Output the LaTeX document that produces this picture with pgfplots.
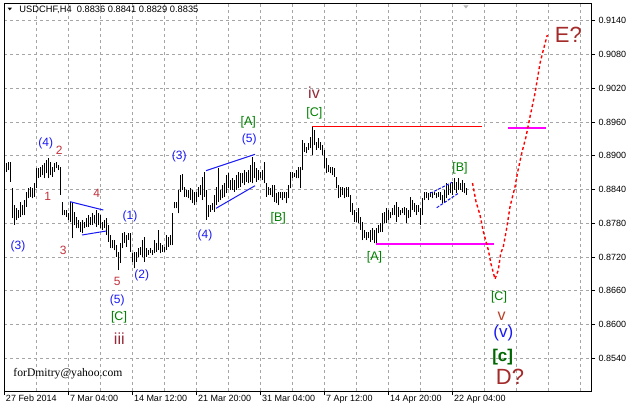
\documentclass[border=0pt]{standalone}
\usepackage{pgfplots}
\pgfplotsset{compat=1.18}
\usepackage{pgfplotstable}
\usepackage{fontspec}
\setmainfont{Liberation Sans}
\newfontfamily\seriffont{Liberation Serif}
\newfontfamily\dejavu{DejaVu Sans}
\newcommand{\fs}[1]{\fontsize{#1}{#1}\selectfont}
\definecolor{wblue}{RGB}{25,25,245}
\definecolor{wgreen}{RGB}{0,128,0}
\definecolor{wred}{RGB}{195,50,60}
\definecolor{wmaroon}{RGB}{150,40,55}
\definecolor{wv}{RGB}{185,65,40}
\definecolor{wbrown}{RGB}{165,42,42}
\definecolor{gridc}{RGB}{165,165,165}
\definecolor{mag}{RGB}{255,0,255}

\pgfplotstableread{
x lo hi
6 0.88717 0.88877
8 0.88747 0.88884
10 0.88539 0.88884
12 0.87889 0.88422
14 0.87770 0.88125
16 0.87859 0.88066
18 0.87894 0.88036
20 0.87917 0.88184
22 0.87947 0.88125
24 0.87947 0.88214
26 0.88095 0.88361
28 0.88244 0.88422
30 0.88273 0.88450
32 0.88244 0.88422
34 0.88273 0.88511
36 0.88427 0.88783
38 0.88605 0.88783
40 0.88628 0.88806
42 0.88658 0.88836
44 0.88605 0.88871
46 0.88688 0.88925
48 0.88605 0.88960
50 0.88658 0.88895
52 0.88628 0.88806
54 0.88717 0.88871
56 0.88777 0.88895
58 0.88747 0.88836
60 0.88303 0.88806
62 0.87947 0.88184
64 0.87947 0.88036
66 0.87917 0.88036
68 0.87859 0.87978
70 0.87828 0.88184
72 0.87533 0.88184
74 0.87770 0.88006
76 0.87711 0.87917
78 0.87711 0.87859
80 0.87651 0.87828
82 0.87622 0.87859
84 0.87711 0.87828
86 0.87740 0.87889
88 0.87740 0.87947
90 0.87770 0.87917
92 0.87770 0.87978
94 0.87800 0.87947
96 0.87740 0.88036
98 0.87770 0.87978
100 0.87711 0.87947
102 0.87681 0.87828
104 0.87711 0.87859
106 0.87592 0.87889
108 0.87473 0.87770
110 0.87356 0.87592
112 0.87356 0.87503
114 0.87325 0.87503
116 0.87207 0.87414
118 0.86970 0.87295
120 0.87095 0.87450
122 0.87361 0.87628
124 0.87450 0.87651
126 0.87384 0.87592
128 0.87503 0.87628
130 0.87295 0.87628
132 0.87118 0.87267
134 0.87000 0.87295
136 0.87118 0.87295
138 0.87207 0.87356
140 0.87237 0.87384
142 0.87207 0.87503
144 0.87118 0.87562
146 0.87207 0.87356
148 0.87237 0.87325
150 0.87267 0.87356
152 0.87237 0.87325
154 0.87267 0.87503
156 0.87295 0.87445
158 0.87325 0.87681
160 0.87267 0.87445
162 0.87295 0.87414
164 0.87295 0.87384
166 0.87325 0.87592
168 0.87384 0.87562
170 0.87414 0.87592
172 0.87414 0.87978
174 0.88066 0.88184
176 0.88066 0.88184
178 0.87978 0.88392
180 0.88361 0.88658
182 0.88392 0.88671
184 0.88273 0.88450
186 0.88273 0.88392
188 0.88244 0.88392
190 0.88214 0.88422
192 0.88155 0.88392
194 0.88125 0.88361
196 0.88184 0.88361
198 0.88273 0.88450
200 0.88303 0.88481
202 0.88214 0.88628
204 0.88273 0.88717
206 0.87859 0.88392
208 0.87917 0.88125
210 0.88006 0.88125
212 0.88036 0.88155
214 0.88006 0.88303
216 0.88125 0.88450
218 0.88184 0.88777
220 0.88214 0.88392
222 0.88244 0.88481
224 0.88273 0.88511
226 0.88333 0.88658
228 0.88422 0.88688
230 0.88392 0.88569
232 0.88392 0.88600
234 0.88361 0.88569
236 0.88392 0.88658
238 0.88422 0.88717
240 0.88450 0.88688
242 0.88511 0.88688
244 0.88481 0.88747
246 0.88539 0.88717
248 0.88511 0.88747
250 0.88539 0.88836
252 0.88511 0.88983
254 0.88600 0.88895
256 0.88539 0.88777
258 0.88569 0.88747
260 0.88600 0.88717
262 0.88569 0.88747
264 0.88511 0.88895
266 0.88273 0.88511
268 0.88303 0.88450
270 0.88303 0.88422
272 0.88273 0.88481
274 0.88184 0.88481
276 0.88155 0.88333
278 0.88125 0.88361
280 0.88244 0.88361
282 0.88214 0.88361
284 0.88244 0.88361
286 0.88155 0.88361
288 0.88244 0.88481
290 0.88422 0.88717
292 0.88600 0.88717
294 0.88628 0.88688
296 0.88600 0.88747
298 0.88600 0.88806
300 0.88422 0.88806
302 0.88747 0.89280
304 0.89072 0.89222
306 0.89044 0.89161
308 0.89103 0.89222
310 0.89133 0.89339
312 0.89014 0.89517
314 0.89191 0.89458
316 0.89103 0.89250
318 0.89133 0.89310
320 0.89103 0.89250
322 0.89014 0.89191
324 0.88777 0.89103
326 0.88688 0.88955
328 0.88717 0.88836
330 0.88688 0.88806
332 0.88658 0.88806
334 0.88628 0.88777
336 0.88422 0.88628
338 0.88244 0.88481
340 0.88273 0.88450
342 0.88303 0.88450
344 0.88244 0.88422
346 0.88273 0.88450
348 0.88273 0.88450
350 0.88006 0.88303
352 0.87947 0.88155
354 0.87828 0.88036
356 0.87828 0.88006
358 0.87800 0.88066
360 0.87681 0.87917
362 0.87503 0.87828
364 0.87533 0.87681
366 0.87503 0.87651
368 0.87533 0.87651
370 0.87473 0.87681
372 0.87503 0.87711
374 0.87445 0.87681
376 0.87437 0.87711
378 0.87622 0.87770
380 0.87651 0.87800
382 0.87651 0.87978
384 0.87800 0.88006
386 0.87800 0.88066
388 0.87859 0.88036
390 0.87889 0.88006
392 0.87947 0.88066
394 0.87947 0.88125
396 0.87828 0.88184
398 0.87917 0.88095
400 0.87947 0.88036
402 0.87978 0.88066
404 0.87947 0.88095
406 0.87800 0.88066
408 0.87889 0.88036
410 0.87917 0.88273
412 0.88036 0.88214
414 0.88006 0.88155
416 0.87947 0.88125
418 0.88006 0.88125
420 0.87770 0.88066
422 0.87947 0.88244
424 0.88214 0.88361
426 0.88244 0.88361
428 0.88214 0.88333
430 0.88273 0.88361
432 0.88244 0.88361
434 0.88303 0.88361
436 0.88244 0.88333
438 0.88273 0.88361
440 0.88214 0.88361
442 0.88155 0.88303
444 0.88184 0.88392
446 0.88244 0.88511
448 0.88303 0.88481
450 0.88333 0.88511
452 0.88303 0.88539
454 0.88392 0.88600
456 0.88333 0.88539
458 0.88392 0.88610
460 0.88392 0.88511
462 0.88361 0.88569
464 0.88333 0.88511
466 0.88303 0.88422
}\bars

\begin{document}
\begin{tikzpicture}
\useasboundingbox (0,0) rectangle (630bp,409bp);
\fill[white] (0,0) rectangle (630bp,409bp);
\begin{axis}[
  at={(4bp,18bp)}, anchor=south west,
  scale only axis, width=587bp, height=387bp,
  xmin=4, xmax=591, ymin=0.84820, ymax=0.91697,
  axis line style={black, line width=1bp},
  xtick={4.3,68.3,132.3,196.3,260.3,324.3,388.3,452.3},
  xticklabels={27 Feb 2014,7 Mar 04:00,14 Mar 12:00,21 Mar 20:00,31 Mar 04:00,7 Apr 12:00,14 Apr 20:00,22 Apr 04:00},
  minor xtick={36.3,100.3,164.3,228.3,292.3,356.3,420.3,484.3,516.3,548.3,580.3},
  ytick={0.854,0.860,0.866,0.872,0.878,0.884,0.890,0.896,0.902,0.908,0.914},
  xtick pos=left, ytick pos=right, yticklabel pos=right, xticklabel pos=left,
  tick align=outside, major tick length=4bp, minor tick length=0pt,
  tick style={black, line width=0.8bp},
  grid=both,
  major grid style={gridc, line width=0.9bp, dash pattern=on 3bp off 3bp},
  minor grid style={gridc, line width=0.9bp, dash pattern=on 3bp off 3bp},
  scaled y ticks=false,
  yticklabel style={/pgf/number format/.cd, fixed, fixed zerofill, precision=4, assume math mode=true},
  ticklabel style={font={\fs{9bp}}},
  xticklabel style={anchor=north west, inner sep=0pt, xshift=1.5bp},
]
% price bars (low to high)
\addplot[only marks, mark=*, mark size=0pt, mark options={draw=none, fill=none},
  error bars/.cd, y dir=plus, y explicit, error mark=none,
  error bar style={black, line width=1bp, solid}]
  table[x=x, y=lo, y error plus expr=\thisrow{hi}-\thisrow{lo}] {\bars};

% blue channel lines
\addplot[wblue, line width=1bp] coordinates {(70,0.88184) (103.3,0.88036)};
\addplot[wblue, line width=1bp] coordinates {(82,0.87592) (106.3,0.87663)};
\addplot[wblue, line width=1bp] coordinates {(206,0.88735) (255,0.89026)};
\addplot[wblue, line width=1bp] coordinates {(216,0.88066) (255,0.88468)};
\addplot[wblue, line width=1bp, dash pattern=on 3bp off 1.5bp] coordinates {(430,0.88333) (452,0.88528)};
\addplot[wblue, line width=1bp, dash pattern=on 3bp off 1.5bp] coordinates {(436.7,0.88077) (458.3,0.88333)};

% horizontal levels
\addplot[red, line width=1.6bp] coordinates {(312,0.89517) (482,0.89517)};
\addplot[mag, line width=1.7bp] coordinates {(376,0.87437) (494,0.87437)};
\addplot[mag, line width=1.7bp] coordinates {(508,0.89488) (546,0.89488)};

% forecast path
\addplot[red, line width=1.4bp, dash pattern=on 3bp off 2.5bp] coordinates {
(472.5,0.88516) (476,0.88184) (480,0.87947) (483.3,0.87651) (488.3,0.87325)
(491,0.87077) (495,0.86810) (498.3,0.86970) (500.7,0.87267) (503.3,0.87384)
(506.7,0.87711) (510,0.88095) (515,0.88450) (517.7,0.88717) (521.7,0.89044)
(526,0.89339) (530,0.89694) (535,0.90110) (540,0.90643) (543.3,0.90880) (547.3,0.91146)};

% wave labels
\node[wblue, font={\fs{12bp}}] at (axis cs:18,0.87397) {(3)};
\node[wblue, font={\fs{12bp}}] at (axis cs:45.7,0.89222) {(4)};
\node[wred, font={\fs{12bp}}] at (axis cs:59.3,0.89090) {2};
\node[wred, font={\fs{12bp}}] at (axis cs:47.7,0.88273) {1};
\node[wred, font={\fs{12bp}}] at (axis cs:63.3,0.87325) {3};
\node[wred, font={\fs{12bp}}] at (axis cs:96.7,0.88333) {4};
\node[wred, font={\fs{12bp}}] at (axis cs:117.3,0.86775) {5};
\node[wblue, font={\fs{12bp}}] at (axis cs:117.3,0.86437) {(5)};
\node[wgreen, font={\fs{12.5bp}}] at (axis cs:119,0.86130) {[C]};
\node[wmaroon, font={\fs{16bp}}] at (axis cs:119.3,0.85744) {iii};
\node[wblue, font={\fs{12bp}}] at (axis cs:130,0.87917) {(1)};
\node[wblue, font={\fs{12bp}}] at (axis cs:141.7,0.86881) {(2)};
\node[wblue, font={\fs{12bp}}] at (axis cs:179.3,0.88983) {(3)};
\node[wblue, font={\fs{12bp}}] at (axis cs:205,0.87592) {(4)};
\node[wgreen, font={\fs{12.5bp}}] at (axis cs:248.3,0.89588) {[A]};
\node[wblue, font={\fs{12bp}}] at (axis cs:249.3,0.89293) {(5)};
\node[wgreen, font={\fs{12.5bp}}] at (axis cs:278.3,0.87889) {[B]};
\node[wmaroon, font={\fs{16bp}}] at (axis cs:314,0.90115) {iv};
\node[wgreen, font={\fs{12.5bp}}] at (axis cs:314.3,0.89755) {[C]};
\node[wgreen, font={\fs{12.5bp}}] at (axis cs:374.5,0.87201) {[A]};
\node[wgreen, font={\fs{12.5bp}}] at (axis cs:460,0.88774) {[B]};
\node[wgreen, font={\fs{12.5bp}}] at (axis cs:499,0.86485) {[C]};
\node[wv, font={\fs{16bp}}] at (axis cs:501.7,0.86140) {v};
\node[wblue, font={\fs{17bp}}] at (axis cs:503.3,0.85845) {(v)};
\node[wgreen!80!black, font={\fs{17bp}\bfseries}] at (axis cs:502.7,0.85419) {[c]};
\node[wbrown, font={\fs{22bp}}] at (axis cs:510,0.85069) {D?};
\node[wbrown, font={\fs{22bp}}] at (axis cs:568.3,0.91146) {E?};

% title and watermark
\node[anchor=west, inner sep=0pt, font={\fs{6bp}\dejavu}] at (axis cs:7.5,0.91590) {\scalebox{1}[0.6]{▼}};
\node[anchor=west, inner sep=0pt, font={\fs{9.3bp}}] at (axis cs:19.3,0.91590) {USDCHF,H4\ \ 0.8836 0.8841 0.8829 0.8835};
\node[anchor=west, inner sep=0pt, font={\fs{11.6bp}\seriffont}] at (axis cs:13.3,0.85122) {forDmitry@yahoo.com};
\node[inner sep=0pt, gray!60, font={\fs{7bp}\dejavu}] at (axis cs:466,0.91640) {\scalebox{1}[0.6]{▼}};
\end{axis}
\end{tikzpicture}
\end{document}
